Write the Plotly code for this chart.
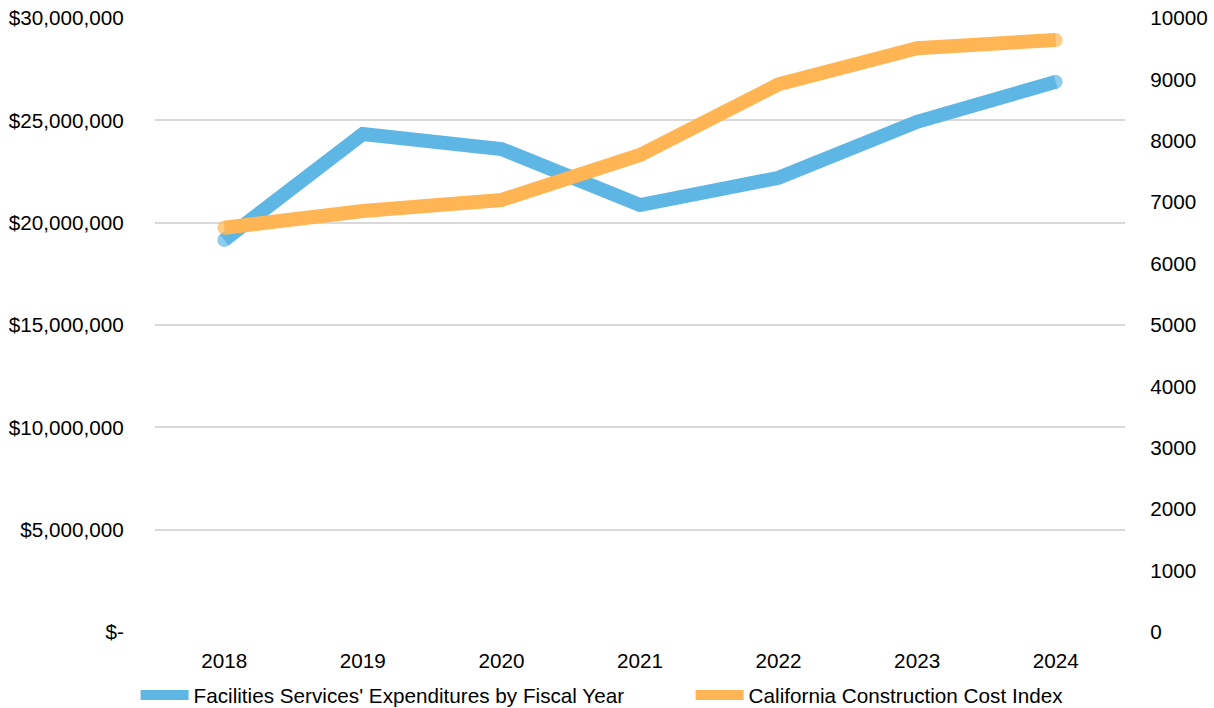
import plotly.graph_objects as go

years = ["2018", "2019", "2020", "2021", "2022", "2023", "2024"]
expenditures = [19150000, 24330000, 23600000, 20860000, 22190000, 24930000, 26880000]
cost_index = [6585, 6857, 7036, 7769, 8920, 9507, 9642]

left_tickvals = [0, 5000000, 10000000, 15000000, 20000000, 25000000, 30000000]
left_ticktext = ["$-", "$5,000,000", "$10,000,000", "$15,000,000",
                 "$20,000,000", "$25,000,000", "$30,000,000"]
right_tickvals = [0, 1000, 2000, 3000, 4000, 5000, 6000, 7000, 8000, 9000, 10000]
right_ticktext = [str(v) for v in right_tickvals]

names = ["Facilities Services' Expenditures by Fiscal Year",
         "California Construction Cost Index"]

BLUE = "#5EB6E4"
ORANGE = "#FFB554"
LW = 14
cap_sizes = [LW] + [0] * (len(years) - 2) + [LW]

fig = go.Figure()
for vals, name, color, axis in [(expenditures, names[0], BLUE, "y"),
                                (cost_index, names[1], ORANGE, "y2")]:
    fig.add_trace(go.Scatter(
        x=years, y=vals, name=name, mode="lines+markers",
        line=dict(color=color, width=LW),
        marker=dict(size=cap_sizes, color=color, line=dict(width=0)),
        yaxis=axis, showlegend=False,
    ))
    # plain line swatch for the legend
    fig.add_trace(go.Scatter(
        x=[None], y=[None], name=name, mode="lines",
        line=dict(color=color, width=LW), yaxis=axis, showlegend=True,
    ))

font = dict(family="Liberation Sans, Arial, sans-serif", size=20.7, color="#000000")

fig.update_layout(
    width=1214, height=708,
    margin=dict(l=155, r=89, t=18, b=76, autoexpand=False),
    paper_bgcolor="white", plot_bgcolor="white",
    font=font,
    showlegend=True,
    legend=dict(orientation="h", x=-0.020, xanchor="left", y=-0.07, yanchor="top",
                font=font, entrywidth=492, entrywidthmode="pixels",
                traceorder="normal", itemwidth=48),
    xaxis=dict(type="category", range=[-0.5, 6.5], showgrid=False, zeroline=False,
               showline=False, ticks="outside", ticklen=10, tickcolor="rgba(0,0,0,0)",
               tickfont=font),
    yaxis=dict(range=[0, 30000000], tickvals=left_tickvals, ticktext=left_ticktext,
               showgrid=True, gridcolor="#D9D9D9", gridwidth=1.5, zeroline=False,
               showline=False, ticks="outside", ticklen=26, tickcolor="rgba(0,0,0,0)",
               tickfont=font),
    yaxis2=dict(range=[0, 10000], tickvals=right_tickvals, ticktext=right_ticktext,
                overlaying="y", side="right",
                showgrid=False, zeroline=False, showline=False, ticks="outside",
                ticklen=20, tickcolor="rgba(0,0,0,0)", tickfont=font),
)

fig.write_html("out.html")
